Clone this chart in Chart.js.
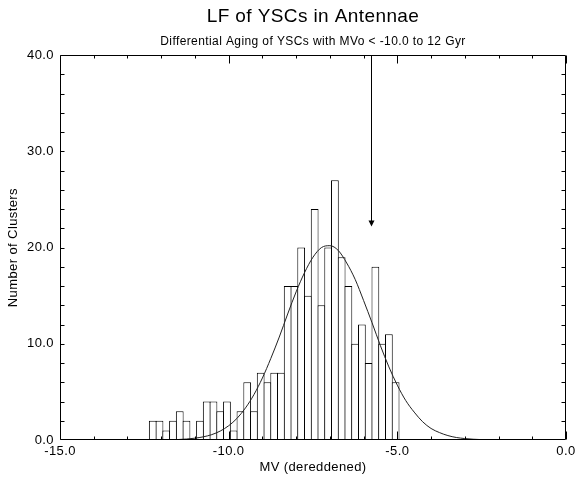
<!DOCTYPE html>
<html><head><meta charset="utf-8">
<script src="https://cdn.jsdelivr.net/npm/chart.js@4.4.0/dist/chart.umd.min.js"></script>
<style>html,body{margin:0;padding:0;background:#fff}#wrap{width:579px;height:481px;position:relative}</style>
</head><body><div id="wrap"><canvas id="c"></canvas></div>
<script>
// Histogram bins (MV, dereddened) — bin centres, 0.2 mag wide
const binCenters = [-12.25, -12.05, -11.85, -11.65, -11.45, -11.25, -11.05, -10.85, -10.65, -10.45,
  -10.25, -10.05, -9.85, -9.65, -9.45, -9.25, -9.05, -8.85, -8.65, -8.45,
  -8.25, -8.05, -7.85, -7.65, -7.45, -7.25, -7.05, -6.85, -6.65, -6.45,
  -6.25, -6.05, -5.85, -5.65, -5.45, -5.25, -5.05];
const clusterCounts = [2, 2, 1, 2, 3, 2, 0, 2, 4, 4,
  3, 4, 1, 3, 6, 3, 7, 6, 7, 7,
  16, 16, 20, 15, 24, 14, 20, 27, 19, 16,
  10, 12, 8, 18, 10, 11, 6];

// Fitted curve
const curveX = [-12.5, -12.25, -12.0, -11.75, -11.5, -11.25, -11.0, -10.75, -10.5, -10.25,
  -10.0, -9.75, -9.5, -9.25, -9.0, -8.75, -8.5, -8.25, -8.0, -7.75,
  -7.5, -7.25, -7.0, -6.75, -6.5, -6.25, -6.0, -5.75, -5.5, -5.25,
  -5.0, -4.75, -4.5, -4.25, -4.0, -3.75, -3.5, -3.25, -3.0, -2.75, -2.5];
const curveY = [0.0, 0.01, 0.01, 0.03, 0.05, 0.10, 0.19, 0.33, 0.56, 0.93,
  1.48, 2.26, 3.34, 4.72, 6.44, 8.48, 10.7, 13.1, 15.4, 17.4,
  19.0, 20.0, 20.2, 19.7, 18.4, 16.7, 14.5, 12.2, 9.8, 7.6,
  5.7, 4.1, 2.9, 1.9, 1.2, 0.77, 0.46, 0.26, 0.15, 0.08, 0.04];

// Arrow marker (MV, count from -> to)
const arrowX = -5.77;
const arrowFromY = 40;
const arrowToY = 22.2;

// Axis ticks
const xMajorTicks = [-15, -10, -5, 0];
const xMinorTicks = [-14, -13, -12, -11, -9, -8, -7, -6, -4, -3, -2, -1];
const yTicks = [2, 4, 6, 8, 10, 12, 14, 16, 18, 20, 22, 24, 26, 28, 30, 32, 34, 36, 38];

const FONT = '"Liberation Sans", Arial, Helvetica, sans-serif';

const spacingPlugin = {
  id: 'spacing',
  beforeInit(chart) { try { chart.ctx.letterSpacing = '0.4px'; } catch (e) {} },
  beforeDraw(chart) { try { chart.ctx.letterSpacing = '0.4px'; } catch (e) {} }
};

const framePlugin = {
  id: 'frame',
  afterDatasetsDraw(chart) {
    const {ctx, chartArea: a, scales: {x, y}} = chart;
    ctx.save();
    ctx.strokeStyle = '#000';
    ctx.lineWidth = 1;
    const L = Math.round(a.left) + 0.5, R = Math.round(a.right) - 0.5;
    const T = Math.round(a.top) + 0.5, B = Math.round(a.bottom) - 0.5;
    ctx.beginPath();
    ctx.rect(L, T, R - L, B - T);
    xMajorTicks.forEach(v => {
      const px = Math.round(x.getPixelForValue(v)) + 0.5;
      ctx.moveTo(px, B); ctx.lineTo(px, B - 8);
      ctx.moveTo(px, T); ctx.lineTo(px, T + 8);
    });
    xMinorTicks.forEach(v => {
      const px = Math.round(x.getPixelForValue(v)) + 0.5;
      ctx.moveTo(px, B); ctx.lineTo(px, B - 3);
      ctx.moveTo(px, T); ctx.lineTo(px, T + 3);
    });
    yTicks.forEach(v => {
      const py = Math.round(y.getPixelForValue(v)) + 0.5;
      ctx.moveTo(L, py); ctx.lineTo(L + 4, py);
      ctx.moveTo(R, py); ctx.lineTo(R - 4, py);
    });
    ctx.stroke();
    const ax = Math.round(x.getPixelForValue(arrowX)) + 0.5;
    const y0 = y.getPixelForValue(arrowFromY);
    const y1 = y.getPixelForValue(arrowToY);
    ctx.beginPath();
    ctx.moveTo(ax, y0); ctx.lineTo(ax, y1 - 5);
    ctx.stroke();
    ctx.fillStyle = '#000';
    ctx.beginPath();
    ctx.moveTo(ax - 3, y1 - 6);
    ctx.lineTo(ax + 3, y1 - 6);
    ctx.lineTo(ax, y1);
    ctx.closePath();
    ctx.fill();
    ctx.restore();
  }
};

new Chart(document.getElementById('c'), {
  type: 'bar',
  data: {
    datasets: [
      {
        type: 'line',
        data: curveX.map((v, i) => ({x: v, y: curveY[i]})),
        borderColor: '#222',
        borderWidth: 1,
        pointRadius: 0,
        fill: false,
        cubicInterpolationMode: 'monotone',
        order: 0
      },
      {
        type: 'bar',
        data: binCenters.map((v, i) => ({x: v, y: clusterCounts[i]})),
        backgroundColor: '#fff',
        borderColor: '#000',
        borderWidth: 1,
        barPercentage: 1.15,
        categoryPercentage: 1,
        order: 1
      }
    ]
  },
  options: {
    responsive: true,
    maintainAspectRatio: false,
    animation: false,
    devicePixelRatio: 1,
    layout: {padding: {left: 0, right: 10, top: 0, bottom: 0}},
    plugins: {
      legend: {display: false},
      tooltip: {enabled: false},
      title: {
        display: true, fullSize: false,
        text: 'LF of YSCs in Antennae',
        color: '#000',
        font: {family: FONT, size: 19, weight: 'normal', lineHeight: 1.2},
        padding: {top: 5, bottom: 7}
      },
      subtitle: {
        display: true, fullSize: false,
        text: 'Differential Aging of YSCs with MVo < -10.0 to 12 Gyr',
        color: '#000',
        font: {family: FONT, size: 12, weight: 'normal', lineHeight: 1.2},
        padding: {top: 0, bottom: 6}
      }
    },
    scales: {
      x: {
        type: 'linear', min: -15, max: 0, offset: false,
        afterFit: s => { s.height = 41; },
        grid: {display: false, drawTicks: false, offset: false},
        border: {display: false},
        ticks: {stepSize: 5, padding: 4, color: '#000', maxRotation: 0,
          font: {family: FONT, size: 13},
          callback: v => Number(v).toFixed(1)},
        title: {display: true, text: 'MV (dereddened)', color: '#000',
          font: {family: FONT, size: 13}, padding: {top: 0, bottom: 6}}
      },
      y: {
        type: 'linear', min: 0, max: 40,
        afterFit: s => { s.width = 60; },
        grid: {display: false, drawTicks: false},
        border: {display: false},
        ticks: {stepSize: 10, padding: 6, color: '#000',
          font: {family: FONT, size: 13},
          callback: v => Number(v).toFixed(1)},
        title: {display: true, text: 'Number of Clusters', color: '#000',
          font: {family: FONT, size: 13}, padding: {top: 6, bottom: 0}}
      }
    }
  },
  plugins: [spacingPlugin, framePlugin]
});
</script>
</body></html>
